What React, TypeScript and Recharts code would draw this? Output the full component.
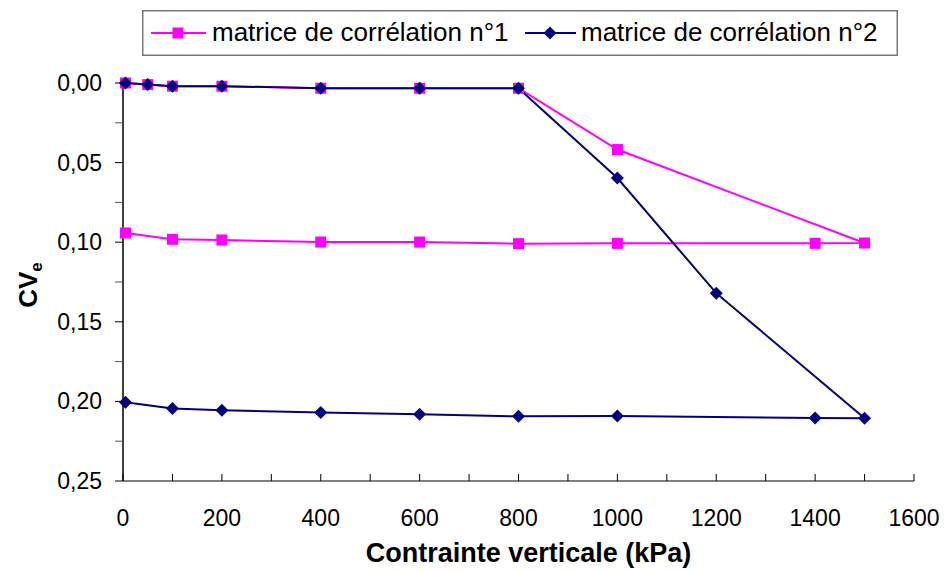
import { ComposedChart, Line, XAxis, YAxis, Legend } from "recharts";

// Contrainte verticale (kPa) – each series runs out along the top branch and back along the bottom one
const pressure1 = [5, 50, 100, 200, 400, 600, 800, 1000, 1500, 1400, 1000, 800, 600, 400, 200, 100, 5];
const cve1 = [0.0, 0.001, 0.002, 0.002, 0.0033, 0.0033, 0.0033, 0.0418, 0.1005, 0.1007, 0.1007, 0.1009, 0.0999, 0.0999, 0.0986, 0.0982, 0.0942];

const pressure2 = [5, 50, 100, 200, 400, 600, 800, 1000, 1200, 1500, 1400, 1000, 800, 600, 400, 200, 100, 5];
const cve2 = [0.0, 0.001, 0.002, 0.002, 0.0033, 0.0033, 0.0033, 0.0597, 0.132, 0.2106, 0.2104, 0.2092, 0.2094, 0.2081, 0.2069, 0.2056, 0.2044, 0.2006];

const seriesNames = ["matrice de corrélation n°1", "matrice de corrélation n°2"];

const xTicks = [0, 100, 200, 300, 400, 500, 600, 700, 800, 900, 1000, 1100, 1200, 1300, 1400, 1500, 1600];
const yTicks = [0, 0.025, 0.05, 0.075, 0.1, 0.125, 0.15, 0.175, 0.2, 0.225, 0.25];

const FONT = "'Liberation Sans', Arial, sans-serif";
const PINK = "#FF00FF";
const NAVY = "#000080";

const data1 = pressure1.map((x, i) => ({ x, y: cve1[i] }));
const data2 = pressure2.map((x, i) => ({ x, y: cve2[i] }));

const Square = (props: any) => {
  const { cx, cy } = props;
  if (cx == null || cy == null) return null;
  return <rect x={cx - 5.5} y={cy - 5.5} width={11} height={11} fill={PINK} />;
};

const Diamond = (props: any) => {
  const { cx, cy } = props;
  if (cx == null || cy == null) return null;
  const r = 6.5;
  return <polygon points={`${cx},${cy - r} ${cx + r},${cy} ${cx},${cy + r} ${cx - r},${cy}`} fill={NAVY} />;
};

const XTick = (props: any) => {
  const { x, y, payload } = props;
  const major = payload.value % 200 === 0;
  return (
    <g>
      <line x1={x} x2={x} y1={y} y2={y - 7} stroke="#000" strokeWidth={1} />
      {major && (
        <text x={x} y={y + 45} textAnchor="middle" fontFamily={FONT} fontSize={23} fill="#000">
          {payload.value}
        </text>
      )}
    </g>
  );
};

const YTick = (props: any) => {
  const { x, y, payload } = props;
  const major = Math.round(payload.value * 1000) % 50 === 0;
  return (
    <g>
      <line x1={x} x2={x - 8} y1={y} y2={y} stroke={major ? "#000" : "#555"} strokeWidth={1} />
      {major && (
        <text x={x - 21} y={y + 8} textAnchor="end" fontFamily={FONT} fontSize={23} fill="#000">
          {payload.value.toFixed(2).replace(".", ",")}
        </text>
      )}
    </g>
  );
};

const LegendBox = () => (
  <svg width={756} height={46}>
    <rect x={0.75} y={0.75} width={754.5} height={44.5} fill="#fff" stroke="#777" strokeWidth={1.5} />
    <line x1={9} x2={64} y1={23} y2={23} stroke={PINK} strokeWidth={2} />
    <Square cx={36} cy={23} />
    <text x={70} y={31} fontFamily={FONT} fontSize={26} fill="#000">{seriesNames[0]}</text>
    <line x1={383} x2={434} y1={23} y2={23} stroke={NAVY} strokeWidth={2} />
    <Diamond cx={408} cy={23} />
    <text x={439} y={31} fontFamily={FONT} fontSize={26} fill="#000">{seriesNames[1]}</text>
  </svg>
);

export default function App() {
  return (
    <div style={{ position: "absolute", left: 0, top: 0, background: "#fff" }}>
      <ComposedChart width={946} height={571} margin={{ top: 83, right: 32, bottom: 0, left: 0 }}>
        <XAxis
          type="number"
          dataKey="x"
          domain={[0, 1600]}
          ticks={xTicks}
          interval={0}
          height={90}
          tickSize={0}
          tickMargin={0}
          tickLine={false}
          tick={<XTick />}
          axisLine={{ stroke: "#000", strokeWidth: 1 }}
          label={{
            content: (p: any) => (
              <text
                x={p.viewBox.x + p.viewBox.width / 2 + 10}
                y={p.viewBox.y + 81}
                textAnchor="middle"
                fontFamily={FONT}
                fontWeight="bold"
                fontSize={27}
                fill="#000"
              >
                Contrainte verticale (kPa)
              </text>
            ),
          }}
        />
        <YAxis
          type="number"
          dataKey="y"
          domain={[0, 0.25]}
          reversed
          ticks={yTicks}
          interval={0}
          width={123}
          tickSize={0}
          tickMargin={0}
          tickLine={false}
          tick={<YTick />}
          axisLine={{ stroke: "#000", strokeWidth: 1.5 }}
          label={{
            content: (p: any) => {
              const cx = p.viewBox.x + 28;
              const cy = p.viewBox.y + p.viewBox.height / 2 + 3;
              return (
                <text
                  transform={`translate(${cx},${cy}) rotate(-90)`}
                  textAnchor="middle"
                  fontFamily={FONT}
                  fontWeight="bold"
                  fontSize={26}
                  fill="#000"
                  dy={9}
                >
                  CV<tspan fontSize={17} dy={5}>e</tspan>
                </text>
              );
            },
          }}
        />
        <Legend
          layout="horizontal"
          verticalAlign="middle"
          align="center"
          wrapperStyle={{ position: "absolute", top: 10, left: 142, width: 756 }}
          content={() => <LegendBox />}
        />
        <Line
          data={data1}
          dataKey="y"
          name={seriesNames[0]}
          type="linear"
          stroke={PINK}
          strokeWidth={2}
          dot={<Square />}
          activeDot={false}
          isAnimationActive={false}
        />
        <Line
          data={data2}
          dataKey="y"
          name={seriesNames[1]}
          type="linear"
          stroke={NAVY}
          strokeWidth={2}
          dot={<Diamond />}
          activeDot={false}
          isAnimationActive={false}
        />
      </ComposedChart>
    </div>
  );
}
